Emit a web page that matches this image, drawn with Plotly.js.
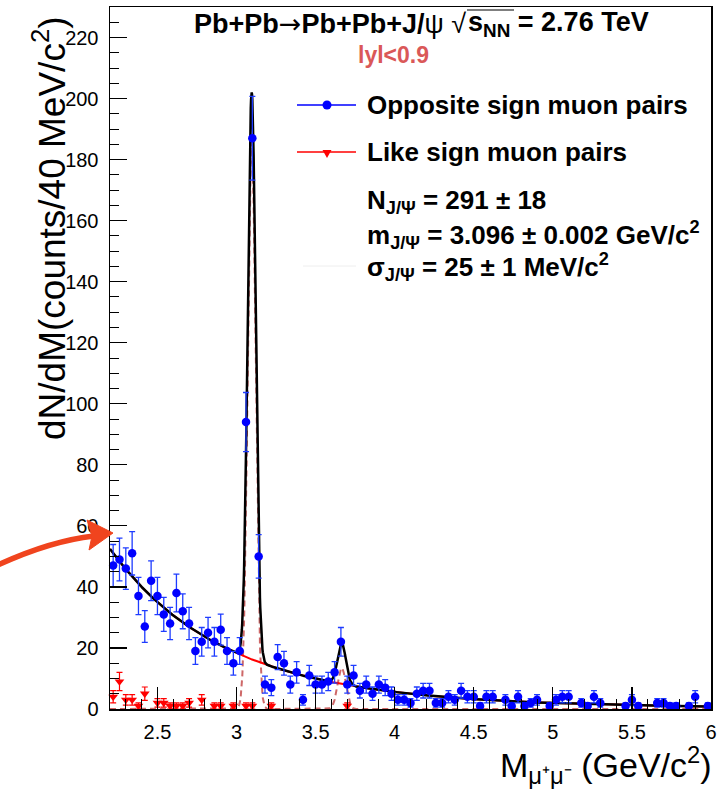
<!DOCTYPE html>
<html>
<head>
<meta charset="utf-8">
<script src="https://cdn.plot.ly/plotly-3.0.1.min.js"></script>
<style>
  html, body { margin: 0; padding: 0; background: #ffffff; }
  #chart { width: 723px; height: 790px; }
</style>
</head>
<body>
<div id="chart"></div>
<script>
// Dimuon invariant-mass spectrum, 40 MeV/c^2 bins from 2.2 to 6.0 GeV/c^2
const BIN_LOW = 2.2;
const BIN_WIDTH = 0.04;
const N_BINS = 95;

// Opposite-sign pairs: counts per bin (null = empty bin)
const oppositeCounts = [
  47, 49, 46, 51, 37, 27, 42, 37, 31, 28,
  38, 32, 28, 19, 22, 25, 22, 26, 19, 15,
  19, 94, 187, 50, 8, 7, 17, 15, 8, 12,
  3, 11, 8, 8, 9, 12, 22, 8, 11, 6,
  8, 5, 8, 7, 5, 3, 3, 2, 5, 6,
  6, 2, 2, 4, 3, 6, 4, 4, 1, 4,
  4, null, 3, 1, 4, 1, 2, 3, null, 1,
  3, 4, 4, null, 2, 1, 4, 2, null, null,
  null, 1, 3, 1, null, null, 2, 2, 1, 1,
  null, 1, 4, null, 1
];
const oppositeErrors = [
  6.9, 7.0, 6.8, 7.1, 6.1, 5.2, 6.5, 6.1, 5.6, 5.3,
  6.2, 5.7, 5.3, 4.4, 4.7, 5.0, 4.7, 5.1, 4.4, 3.9,
  4.4, 9.7, 13.7, 7.1, 2.8, 2.6, 4.1, 3.9, 2.8, 3.5,
  1.7, 3.3, 2.8, 2.8, 3.0, 3.5, 4.7, 2.8, 3.3, 2.4,
  2.8, 2.2, 2.8, 2.6, 2.2, 1.7, 1.7, 1.4, 2.2, 2.4,
  2.4, 1.4, 1.4, 2.0, 1.7, 2.4, 2.0, 2.0, 1.0, 2.0,
  2.0, null, 1.7, 1.0, 2.0, 1.0, 1.4, 1.7, null, 1.0,
  1.7, 2.0, 2.0, null, 1.4, 1.0, 2.0, 1.4, null, null,
  null, 1.0, 1.7, 1.0, null, null, 1.4, 1.4, 1.0, 1.0,
  null, 1.0, 2.0, null, 1.0
];

// Like-sign pairs: only the non-empty bins
const likeMass   = [2.22, 2.26, 2.30, 2.34, 2.38, 2.42, 2.50, 2.54, 2.58, 2.62,
                    2.66, 2.70, 2.78, 2.86, 2.90, 2.98, 3.06, 3.10, 3.22, 3.70];
const likeCounts = [4, 9, 3, 3, 1, 5, 2, 2, 1, 1,
                    1, 2, 3, 1, 1, 1, 1, 1, 1, 1];
const likeErrors = [2.0, 3.0, 1.7, 1.7, 1.0, 2.2, 1.4, 1.4, 1.0, 1.0,
                    1.0, 1.4, 1.7, 1.0, 1.0, 1.0, 1.0, 1.0, 1.0, 1.0];

// Fit results
const nJpsi = 291, nJpsiErr = 18;
const mJpsi = 3.096, mJpsiErr = 0.002;         // GeV/c^2
const sigmaJpsi = 0.025, sigmaJpsiErr = 0.001; // GeV/c^2
// psi(2S) peak and exponential-type continuum
const psi2sMean = 3.665, psi2sSigma = 0.026, psi2sAmp = 13.5;
const bgPar = [3.96, -1.37, 0.07]; // ln(bg) = p0 + p1*(m-2.2) + p2*(m-2.2)^2

const binCenters = [];
for (let i = 0; i < N_BINS; i++) binCenters.push(+(BIN_LOW + BIN_WIDTH * (i + 0.5)).toFixed(3));

// Fit function components, evaluated on a fine grid for drawing
const jpsiAmp = nJpsi * BIN_WIDTH / (sigmaJpsi * Math.sqrt(2 * Math.PI));
const gauss = (m, mu, s, a) => a * Math.exp(-0.5 * ((m - mu) / s) ** 2);
const background = m => Math.exp(bgPar[0] + bgPar[1] * (m - 2.2) + bgPar[2] * (m - 2.2) ** 2);
const signal = m => gauss(m, mJpsi, sigmaJpsi, jpsiAmp) + gauss(m, psi2sMean, psi2sSigma, psi2sAmp);

const gridM = [], sigY = [], bgY = [], totY = [];
for (let m = 2.2; m <= 6.0001; m += 0.002) {
  gridM.push(m);
  sigY.push(signal(m));
  bgY.push(background(m));
  totY.push(signal(m) + background(m));
}

const FONT = 'Liberation Sans, Arial, Helvetica, sans-serif';
const BLUE = '#0000ff';
const RED = '#ff0000';

const traces = [
  { x: gridM, y: sigY, mode: 'lines', hoverinfo: 'skip', showlegend: false,
    line: { color: 'rgb(206,104,104)', width: 2, dash: '6px,4px' } },
  { x: gridM, y: bgY, mode: 'lines', hoverinfo: 'skip', showlegend: false,
    line: { color: RED, width: 2 } },
  { x: gridM, y: totY, mode: 'lines', hoverinfo: 'skip', showlegend: false,
    line: { color: '#000000', width: 2.5 } },
  { x: likeMass, y: likeCounts, mode: 'markers', showlegend: false, cliponaxis: false,
    marker: { symbol: 'triangle-down', size: 8.5, color: RED },
    error_y: { type: 'data', array: likeErrors, visible: true, color: RED, thickness: 1.2, width: 3 } },
  { x: binCenters, y: oppositeCounts, mode: 'markers', showlegend: false, cliponaxis: false,
    marker: { symbol: 'circle', size: 8.5, color: BLUE },
    error_y: { type: 'data', array: oppositeErrors, visible: true, color: 'rgb(30,60,255)', thickness: 1.3, width: 3 } }
];

// plot area: 110..711 px horizontally, 7..709 px vertically
const L = 110, T = 7, W = 601, H = 702;
const px = x => (x - L) / W;
const py = y => (T + H - y) / H;

const ann = (text, x, y, opts) => Object.assign({
  text, xref: 'paper', yref: 'paper', x: px(x), y: py(y), showarrow: false,
  xanchor: 'left', yanchor: 'middle', font: { family: FONT, size: 26, color: '#000' }
}, opts || {});

const TITLE_FONT = { family: FONT, size: 27, color: '#000' };
const annotations = [
  // reaction and energy; the radical's bar is a separate line shape
  ann('<b>Pb+Pb</b><span style="font-family:DejaVu Sans">→</span><b>Pb+Pb+J/</b>ψ √', 468, 24,
      { xanchor: 'right', font: TITLE_FONT }),
  ann('<b>s<sub>NN</sub> = 2.76 TeV</b>', 466, 24, { font: TITLE_FONT }),
  ann('<b>lyl&lt;0.9</b>', 393, 55, { xanchor: 'center', font: { family: FONT, size: 23, color: 'rgb(218,88,88)' } }),
  ann('<b>Opposite sign muon pairs</b>', 365, 105),
  ann('<b>Like sign muon pairs</b>', 365, 152),
  ann('<b>N<sub>J/Ψ</sub> = ' + nJpsi + ' ± ' + nJpsiErr + '</b>', 365, 201),
  ann('<b>m<sub>J/Ψ</sub> = ' + mJpsi.toFixed(3) + ' ± ' + mJpsiErr.toFixed(3) + ' GeV/c<sup>2</sup></b>', 365, 235),
  ann('<b>σ<sub>J/Ψ</sub> = ' + Math.round(sigmaJpsi * 1000) + ' ± ' + Math.round(sigmaJpsiErr * 1000) + ' MeV/c<sup>2</sup></b>', 365, 267),
  // axis titles
  ann('dN/dM(counts/40 MeV/c<sup>2</sup>)', 50, 228,
      { xanchor: 'center', textangle: -90, font: { family: FONT, size: 37, color: '#000' } }),
  ann('M<sub>μ⁺μ⁻</sub> (GeV/c<sup>2</sup>)', 714, 765,
      { xanchor: 'right', font: { family: FONT, size: 34, color: '#000' } })
];

const ARROW = '#f0441e';
const shapes = [
  // bar over s_NN
  { type: 'line', xref: 'paper', yref: 'paper', x0: px(467), x1: px(514), y0: py(10), y1: py(10),
    line: { color: '#000', width: 1.2 } },
  // legend keys
  { type: 'line', xref: 'paper', yref: 'paper', x0: px(297), x1: px(356), y0: py(105), y1: py(105),
    line: { color: BLUE, width: 1.3 } },
  { type: 'circle', xref: 'paper', yref: 'paper', xsizemode: 'pixel', ysizemode: 'pixel',
    xanchor: px(327), yanchor: py(105), x0: -4.5, x1: 4.5, y0: -4.5, y1: 4.5,
    fillcolor: BLUE, line: { width: 0 } },
  { type: 'line', xref: 'paper', yref: 'paper', x0: px(297), x1: px(356), y0: py(152), y1: py(152),
    line: { color: RED, width: 1.3 } },
  { type: 'path', xref: 'paper', yref: 'paper', xsizemode: 'pixel', ysizemode: 'pixel',
    xanchor: px(327), yanchor: py(153), path: 'M -4.5 3 L 4.5 3 L 0 -5 Z',
    fillcolor: RED, line: { width: 0 } },
  { type: 'line', xref: 'paper', yref: 'paper', x0: px(303), x1: px(356), y0: py(266), y1: py(266),
    line: { color: '#eeeeee', width: 1 } },
  // pointer arrow toward the low-mass edge
  { type: 'path', xref: 'paper', yref: 'paper',
    path: `M ${px(-2)},${py(565)} Q ${px(50)},${py(541)} ${px(94)},${py(536)}`,
    line: { color: ARROW, width: 5.5 } },
  { type: 'path', xref: 'paper', yref: 'paper',
    path: `M ${px(113)},${py(533)} L ${px(87)},${py(520)} L ${px(92)},${py(536)} L ${px(89)},${py(550)} Z`,
    fillcolor: ARROW, line: { color: ARROW, width: 1 } }
];

const axisCommon = {
  showgrid: false, zeroline: false, showline: true, linecolor: '#000', linewidth: 1.5, mirror: true,
  ticks: 'inside', tickcolor: '#000', tickwidth: 1.2,
  tickfont: { family: FONT, size: 20, color: '#000' }
};

const layout = {
  width: 723, height: 790,
  margin: { l: 110, r: 12, t: 7, b: 81 },
  paper_bgcolor: '#ffffff', plot_bgcolor: '#ffffff',
  showlegend: false,
  xaxis: Object.assign({}, axisCommon, {
    range: [2.2, 6.0], tick0: 2.5, dtick: 0.5, ticklen: 22, ticklabelstandoff: 4,
    minor: { dtick: 0.1, ticks: 'inside', ticklen: 10, tickwidth: 1, tickcolor: '#000', showgrid: false }
  }),
  yaxis: Object.assign({}, axisCommon, {
    range: [0, 230], tick0: 0, dtick: 20, ticklen: 17, ticklabelstandoff: 6,
    minor: { dtick: 5, ticks: 'inside', ticklen: 9, tickwidth: 1, tickcolor: '#000', showgrid: false }
  }),
  annotations, shapes
};

Plotly.newPlot('chart', traces, layout, { displayModeBar: false, staticPlot: true });
</script>
</body>
</html>
